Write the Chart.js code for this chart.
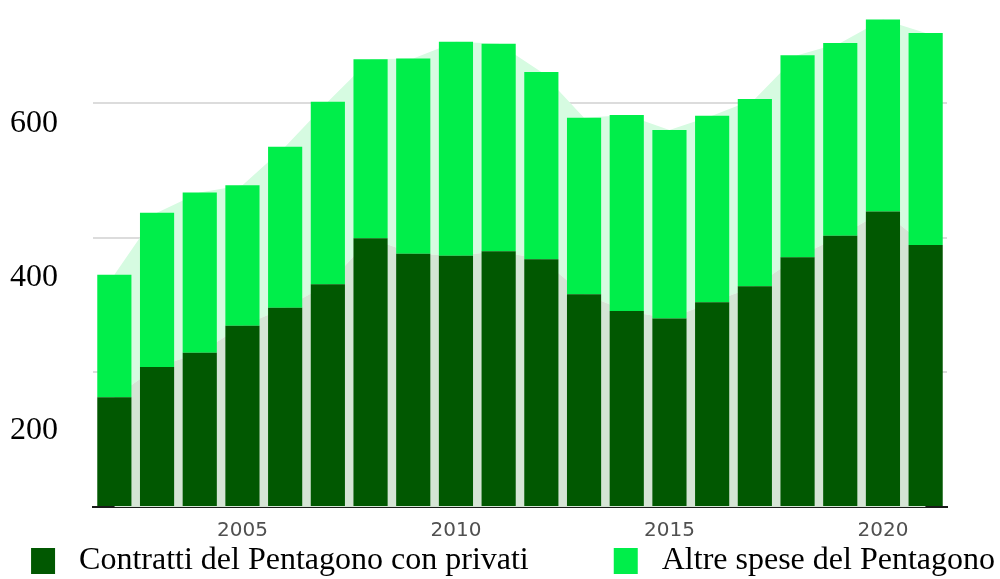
<!DOCTYPE html>
<html>
<head>
<meta charset="utf-8">
<script src="https://cdn.jsdelivr.net/npm/chart.js@4/dist/chart.umd.min.js"></script>
<style>
  html, body { margin: 0; padding: 0; background: #fff; }
  #wrap { width: 1000px; height: 579px; position: relative; }
</style>
</head>
<body>
<div id="wrap"><canvas id="spesaChart"></canvas></div>
<script>
// Data (miliardi di dollari)
const anni = [2002, 2003, 2004, 2005, 2006, 2007, 2008, 2009, 2010, 2011,
              2012, 2013, 2014, 2015, 2016, 2017, 2018, 2019, 2020, 2021];
const contratti = [163, 208, 229, 269, 296, 331, 399, 376, 373, 380,
                   368, 316, 291, 280, 304, 328, 371, 403, 439, 389];
const altreSpese = [182, 229, 238, 209, 239, 271, 266, 290, 318, 308,
                    278, 262, 291, 280, 277, 278, 300, 286, 285, 315];
const anniEtichetta = [2005, 2010, 2015, 2020];
const yEtichette = [200, 400, 600];
const serieNomi = ["Contratti del Pentagono con privati", "Altre spese del Pentagono"];

const verdeScuro = "#015801";
const verdeChiaro = "#00ee4a";
const serif = "'Liberation Serif', 'Times New Roman', serif";

const ctx = document.getElementById("spesaChart").getContext("2d");

new Chart(ctx, {
  data: {
    labels: anni,
    datasets: [
      { type: "bar", label: serieNomi[0], data: contratti, backgroundColor: verdeScuro,
        borderWidth: 0, stack: "barre", order: 1 },
      { type: "bar", label: serieNomi[1], data: altreSpese, backgroundColor: verdeChiaro,
        borderWidth: 0, stack: "barre", order: 1 },
      // pale areas showing between the bars
      { type: "line", label: "", data: contratti, backgroundColor: "#d5e4d5", fill: "origin",
        borderWidth: 0, pointRadius: 0, tension: 0, stack: "aree", order: 2 },
      { type: "line", label: "", data: altreSpese, backgroundColor: "#d6fbe1", fill: "-1",
        borderWidth: 0, pointRadius: 0, tension: 0, stack: "aree", order: 2 }
    ]
  },
  options: {
    responsive: true,
    maintainAspectRatio: false,
    animation: false,
    layout: { padding: { top: 2, bottom: -8, left: 0, right: 0 } },
    datasets: { bar: { barPercentage: 1, categoryPercentage: 0.8 } },
    scales: {
      x: {
        stacked: true,
        grid: { display: false },
        border: { display: true, color: "#1a1a1a", width: 2 },
        ticks: {
          autoSkip: false,
          maxRotation: 0,
          padding: 4,
          color: "#505050",
          font: { family: "'DejaVu Sans', sans-serif", size: 20 },
          callback: function (v, i) {
            return anniEtichetta.includes(anni[i]) ? String(anni[i]) : "";
          }
        },
        afterFit: s => { s.height = s.height - 7; }
      },
      y: {
        position: "right",
        stacked: true,
        min: 0,
        max: 750,
        ticks: { display: false, stepSize: 200 },
        border: { display: false },
        grid: {
          drawTicks: false,
          lineWidth: 2,
          color: c => yEtichette.includes(c.tick.value) ? "#dcdcdc" : "rgba(0,0,0,0)"
        },
        afterFit: s => { s.width = 53; }
      },
      yl: {
        position: "left",
        min: 100.2,
        max: 758.8,
        grid: { display: false },
        border: { display: false },
        ticks: {
          padding: 27,
          color: "#000",
          font: { family: serif, size: 32 }
        },
        afterBuildTicks: s => { s.ticks = yEtichette.map(v => ({ value: v })); },
        afterFit: s => { s.width = 93; s.paddingTop = 0; s.paddingBottom = 0; }
      }
    },
    plugins: {
      tooltip: { enabled: false },
      legend: {
        position: "bottom",
        align: "end",
        labels: {
          boxWidth: 24,
          boxHeight: 26,
          padding: 5,
          color: "#000",
          font: { family: serif, size: 32 },
          generateLabels: chart => Chart.defaults.plugins.legend.labels.generateLabels(chart)
            .filter(l => l.datasetIndex < 2)
            .map((l, i) => {
              l.text = " " + l.text + (i === 0 ? " ".repeat(10) : "");
              return l;
            })
        }
      }
    }
  }
});
</script>
</body>
</html>
